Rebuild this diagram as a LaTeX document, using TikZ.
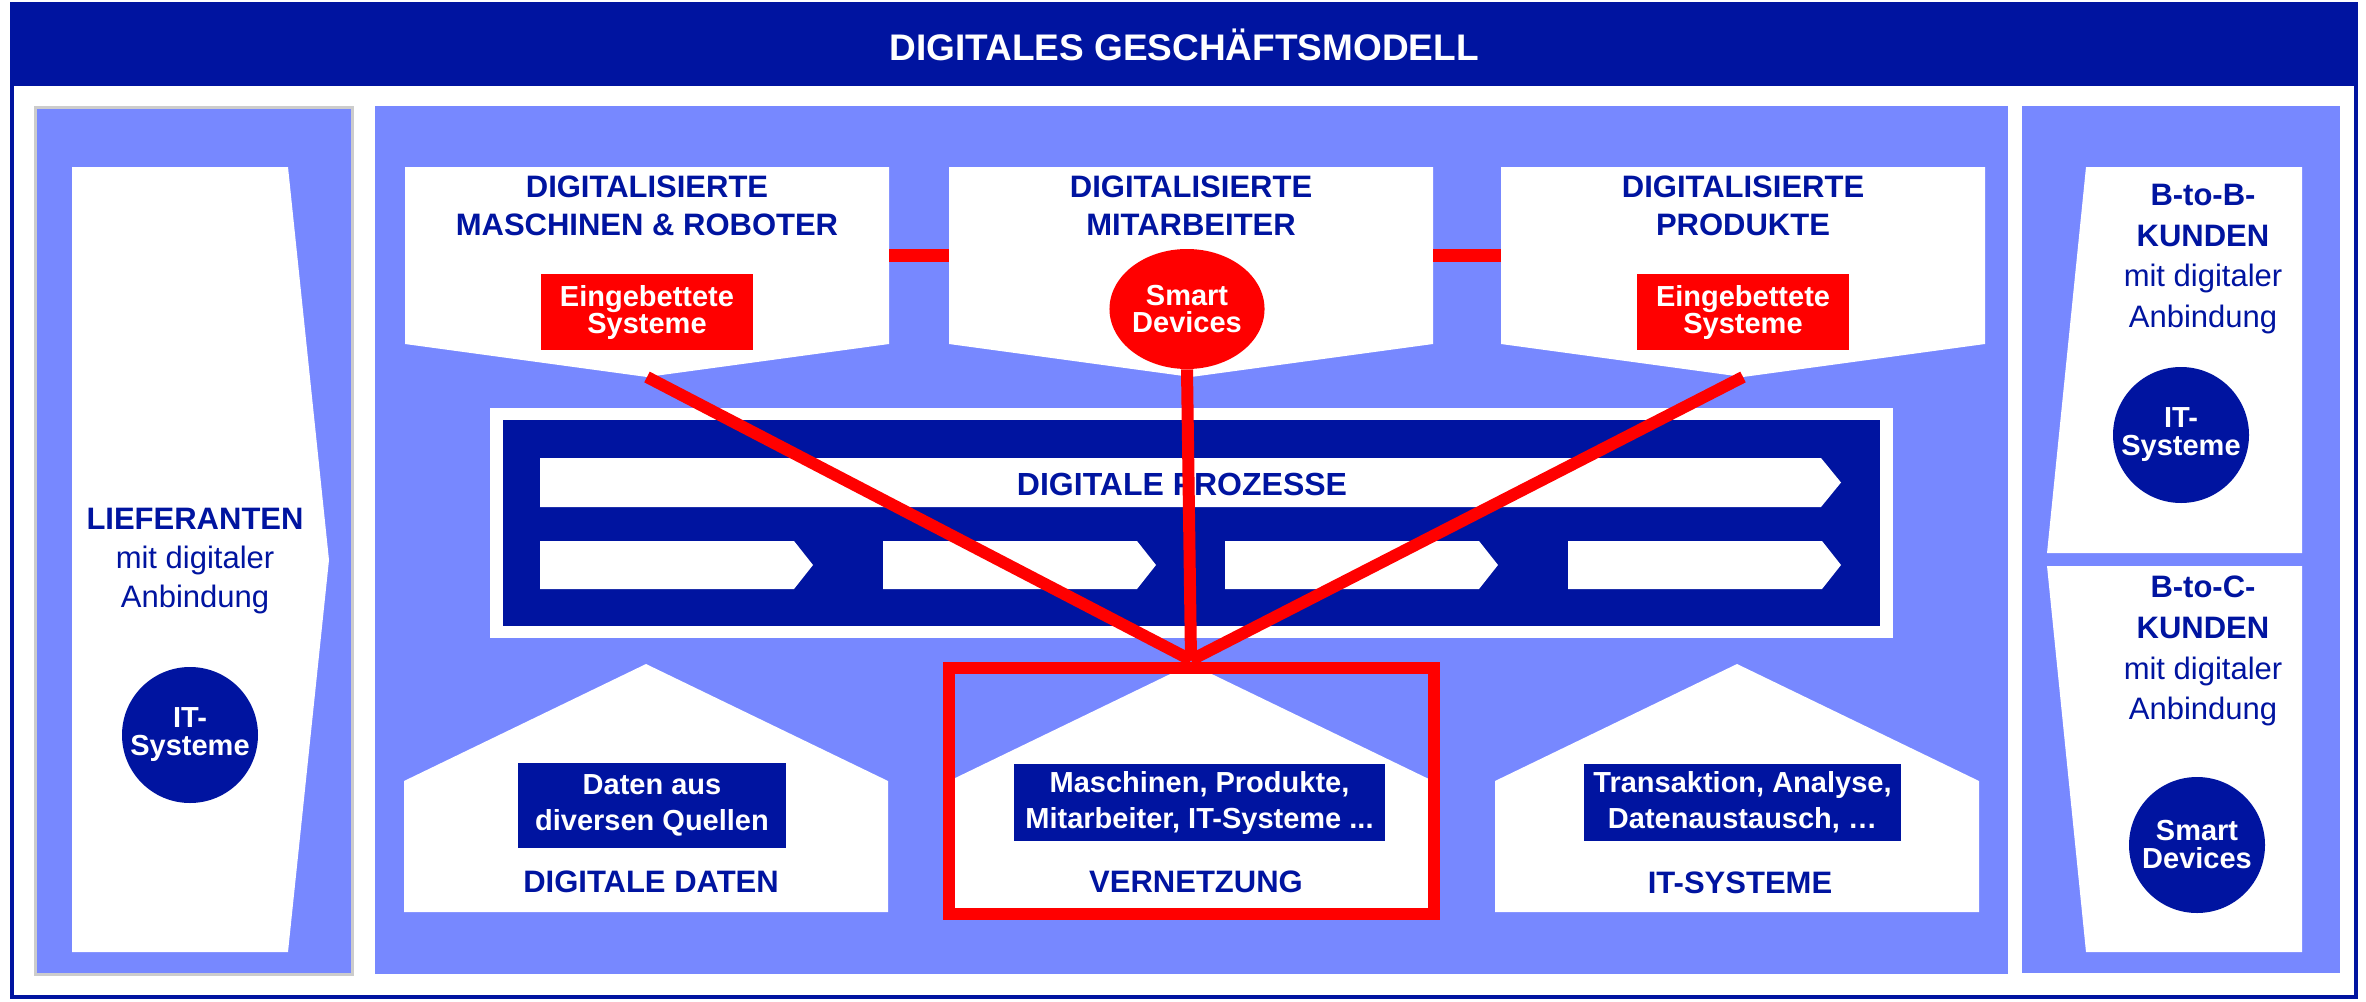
\documentclass[tikz,border=0pt]{standalone}
\usepackage{fontspec}
\setmainfont{Liberation Sans}
\usepackage{tikz}
\usetikzlibrary{shapes.geometric}
\definecolor{dblue}{RGB}{0,20,160}
\definecolor{lblue}{RGB}{119,136,255}
\definecolor{lred}{RGB}{255,0,0}
\tikzstyle{title}=[text=white,font=\fontsize{18.5}{22}\selectfont\bfseries]
\tikzstyle{head}=[text=dblue,font=\fontsize{15.5}{19}\selectfont\bfseries,align=center,inner sep=0pt]
\tikzstyle{side}=[text=dblue,font=\fontsize{15.5}{19.5}\selectfont,align=center,inner sep=0pt]
\tikzstyle{bluebox}=[fill=dblue,text=white,font=\fontsize{14.5}{18}\selectfont\bfseries,align=center,inner sep=0pt]
\tikzstyle{redbox}=[fill=lred,text=white,font=\fontsize{14.5}{13.5}\selectfont\bfseries,align=center,inner sep=0pt,minimum width=106pt,minimum height=38pt]
\tikzstyle{disc}=[circle,fill=dblue,text=white,font=\fontsize{14.5}{14}\selectfont\bfseries,align=center,inner sep=0pt,minimum size=68pt]
\tikzstyle{link} = [draw=lred,line width=6pt]

\begin{document}
\begin{tikzpicture}[x=0.5pt,y=-0.5pt]
    \useasboundingbox (0,0) rectangle (2366,1001);
    % Outer frame and title bar
    \fill[dblue] (12,4) rectangle (2356,86);
    \draw[dblue,line width=2pt] (12,4) rectangle (2356,997);
    \node[title] (titel) at (1184,45) {DIGITALES GESCHÄFTSMODELL};
    % The three panels
    \filldraw[fill=lblue,draw=black!20,line width=1.5pt] (35,107) rectangle (352,974);
    \fill[lblue] (375,106) rectangle (2008,974);
    \fill[lblue] (2022,106) rectangle (2340,973);
    % Arrow shapes of suppliers and customers
    \fill[white] (72,167) -- (288,167) -- (329,560) -- (288,952) -- (72,952) -- cycle;
    \fill[white] (2086,167) -- (2302,167) -- (2302,553) -- (2047,553) -- cycle;
    \fill[white] (2047,566) -- (2302,566) -- (2302,952) -- (2086,952) -- cycle;
    \node[side] (liefer) at (195,561) {\textbf{LIEFERANTEN}\\mit digitaler\\Anbindung};
    \node[disc] (itl) at (190,735) {IT-\\Systeme};
    \node[side,font=\fontsize{15.5}{20.4}\selectfont] (btob) at (2203,259) {\textbf{B-to-B-}\\\textbf{KUNDEN}\\mit digitaler\\Anbindung};
    \node[disc] (itr) at (2181,435) {IT-\\Systeme};
    \node[side,font=\fontsize{15.5}{20.4}\selectfont] (btoc) at (2203,651) {\textbf{B-to-C-}\\\textbf{KUNDEN}\\mit digitaler\\Anbindung};
    \node[disc] (smartr) at (2197,845) {Smart\\Devices};
    % Top boxes: machines, staff, products
    \foreach \x/\name in {405/mach, 949/mitarb, 1501/prod} {
        \fill[white] (\x,167) -- (\x+484,167) -- (\x+484,344) -- (\x+242,377) -- (\x,344) -- cycle;
        \coordinate (\name) at (\x+242,377);
    }
    \node[head] (machtxt) at (647,206) {DIGITALISIERTE\\MASCHINEN \& ROBOTER};
    \node[head] (mitarbtxt) at (1191,206) {DIGITALISIERTE\\MITARBEITER};
    \node[head] (prodtxt) at (1743,206) {DIGITALISIERTE\\PRODUKTE};
    \node[redbox] (embl) at (647,312) {Eingebettete\\Systeme};
    \node[redbox] (embr) at (1743,312) {Eingebettete\\Systeme};
    \node[ellipse,fill=lred,text=white,font=\fontsize{14.5}{13.5}\selectfont\bfseries,align=center,inner sep=0pt,minimum width=72pt,minimum height=60pt] (smart) at (1187,309) {Smart\\Devices};
    \path[link,line width=6.5pt] (889,255) -- (949,255);
    \path[link,line width=6.5pt] (1433,255) -- (1501,255);
    % Digital processes
    \fill[white] (490,408) rectangle (1893,638);
    \fill[dblue] (503,420) rectangle (1880,626);
    \fill[white] (540,458) -- (1821,458) -- (1841,482.5) -- (1821,507) -- (540,507) -- cycle;
    \foreach \x in {540,883,1225,1568}
        \fill[white] (\x,541) -- (\x+254,541) -- (\x+273,565) -- (\x+254,589) -- (\x,589) -- cycle;
    \node[head,font=\fontsize{16}{19}\selectfont\bfseries] (prozesse) at (1182,484) {DIGITALE PROZESSE};
    % Houses at the bottom
    \foreach \x in {404,949,1495}
        \fill[white] (\x,912) -- (\x,781) -- (\x+242,664) -- (\x+484,781) -- (\x+484,912) -- cycle;
    \node[bluebox,minimum width=134pt,minimum height=42.5pt] (daten) at (652,805.5) {Daten aus\\diversen Quellen};
    \node[bluebox,minimum width=185.5pt,minimum height=38.5pt] (netzbox) at (1199.5,802.5) {Maschinen, Produkte,\\Mitarbeiter, IT-Systeme ...};
    \node[bluebox,minimum width=158.5pt,minimum height=38.5pt] (itbox) at (1742.5,802.5) {Transaktion, Analyse,\\Datenaustausch, \dots};
    \node[head] (datentxt) at (651,882) {DIGITALE DATEN};
    \node[head] (netztxt) at (1196,882) {VERNETZUNG};
    \node[head] (ittxt) at (1740,883) {IT-SYSTEME};
    % Red frame and the lines into it
    \draw[lred,line width=6pt] (949,668) rectangle (1434,914);
    \coordinate (hub) at (1191,660);
    \foreach \source in {mach, smart.south, prod}
        \path[link] (\source) -- (hub);
\end{tikzpicture}
\end{document}
